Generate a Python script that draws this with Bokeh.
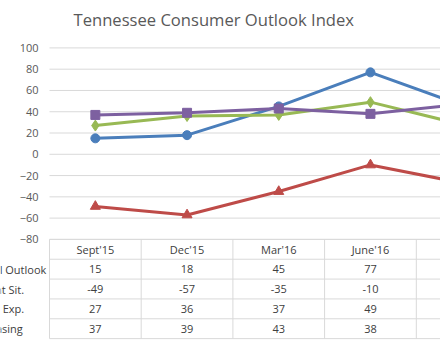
from bokeh.plotting import figure
from bokeh.models import Range1d, FixedTicker
from bokeh.embed import file_html
from bokeh.resources import INLINE
from bokeh.core.properties import value

categories = ["Sept'15", "Dec'15", "Mar'16", "June'16", "Sept'16"]
series_names = ["Overall Outlook", "Current Sit.", "Future Exp.", "Purchasing"]
overall = [15, 18, 45, 77, 46]
current = [-49, -57, -35, -10, -27]
future = [27, 36, 37, 49, 28]
purchasing = [37, 39, 43, 38, 47]
y_ticks = [-80, -60, -40, -20, 0, 20, 40, 60, 80, 100]

series = [overall, current, future, purchasing]
colors = ["#4A7EBB", "#BE4B48", "#98B954", "#7D60A0"]
markers = ["circle", "triangle", "diamond", "square"]
msizes = [9, 10, 11, 9]

W, H = 440, 354
LEFT, TOP = 49, 33
col_px = 91.7
k = 193 / 180.0          # px per value unit
y_top_val = 100 + (45.5 - TOP) / k
y_bot_val = -80 - (H - 238) / k
row_h = 20 / k
x_start = -LEFT / col_px
x_end = (W - LEFT) / col_px

FONT = "Open Sans"
TXT = "#404040"
GRID = "#D9D9D9"

p = figure(width=W, height=H, output_backend="svg", toolbar_location=None,
           x_range=Range1d(x_start, x_end),
           y_range=Range1d(y_bot_val, y_top_val),
           min_border_left=0, min_border_right=0, min_border_top=TOP,
           min_border_bottom=0, outline_line_color=None,
           title="Tennessee Consumer Outlook Index")
p.title.text_font = FONT
p.title.text_font_size = "16.6px"
p.title.text_font_style = "normal"
p.title.text_color = "#595959"
p.title.align = "left"
p.title.offset = 73

p.xaxis.visible = False
p.xgrid.visible = False
p.ygrid.visible = False
ax = p.yaxis[0]
ax.fixed_location = 0
ax.ticker = FixedTicker(ticks=y_ticks)
ax.axis_line_color = None
ax.major_tick_line_color = None
ax.minor_tick_line_color = None
ax.major_tick_out = 0
ax.major_label_standoff = 11
ax.major_label_text_font = FONT
ax.major_label_text_font_size = "11px"
ax.major_label_text_color = "#595959"

n_cols = len(categories)
xs = [i + 0.5 for i in range(n_cols)]
table_top = y_ticks[0]

# horizontal value grid
p.segment(x0=[0] * len(y_ticks), x1=[n_cols] * len(y_ticks), y0=y_ticks, y1=y_ticks,
          line_color=GRID, line_width=1)

# table borders
n_rows = len(series) + 1
hy = [table_top - r * row_h for r in range(n_rows + 1)]
p.segment(x0=[0] * len(hy), x1=[n_cols] * len(hy), y0=hy, y1=hy,
          line_color=GRID, line_width=1)
vx = list(range(n_cols + 1))
p.segment(x0=vx, x1=vx, y0=[table_top] * len(vx), y1=[hy[-1]] * len(vx),
          line_color=GRID, line_width=1)

# lines
for vals, c, m, s in zip(series, colors, markers, msizes):
    p.line(xs, vals, line_color=c, line_width=3)
    p.scatter(xs, vals, marker=m, size=s, fill_color=c, line_color=c)

# table text (only columns whose centre lies inside the visible range)
tx, ty, tt = [], [], []
for i, cat in enumerate(categories):
    if xs[i] > x_end:
        continue
    tx.append(xs[i]); ty.append(table_top - 0.5 * row_h); tt.append(cat)
    for r, vals in enumerate(series):
        tx.append(xs[i]); ty.append(table_top - (r + 1.5) * row_h); tt.append(str(vals[i]))
p.text(x=tx, y=ty, text=tt, text_font=value(FONT), text_font_size="11px",
       text_color=TXT, text_align="center", text_baseline="middle")

# row labels (the chart is cropped on the left, as in the original)
p.text(x=[-0.91] * len(series_names),
       y=[table_top - (r + 1.5) * row_h for r in range(len(series_names))],
       text=series_names, text_font=value(FONT), text_font_size="11px",
       text_color=TXT, text_align="left", text_baseline="middle")

open("out.html", "w").write(file_html(p, INLINE))
